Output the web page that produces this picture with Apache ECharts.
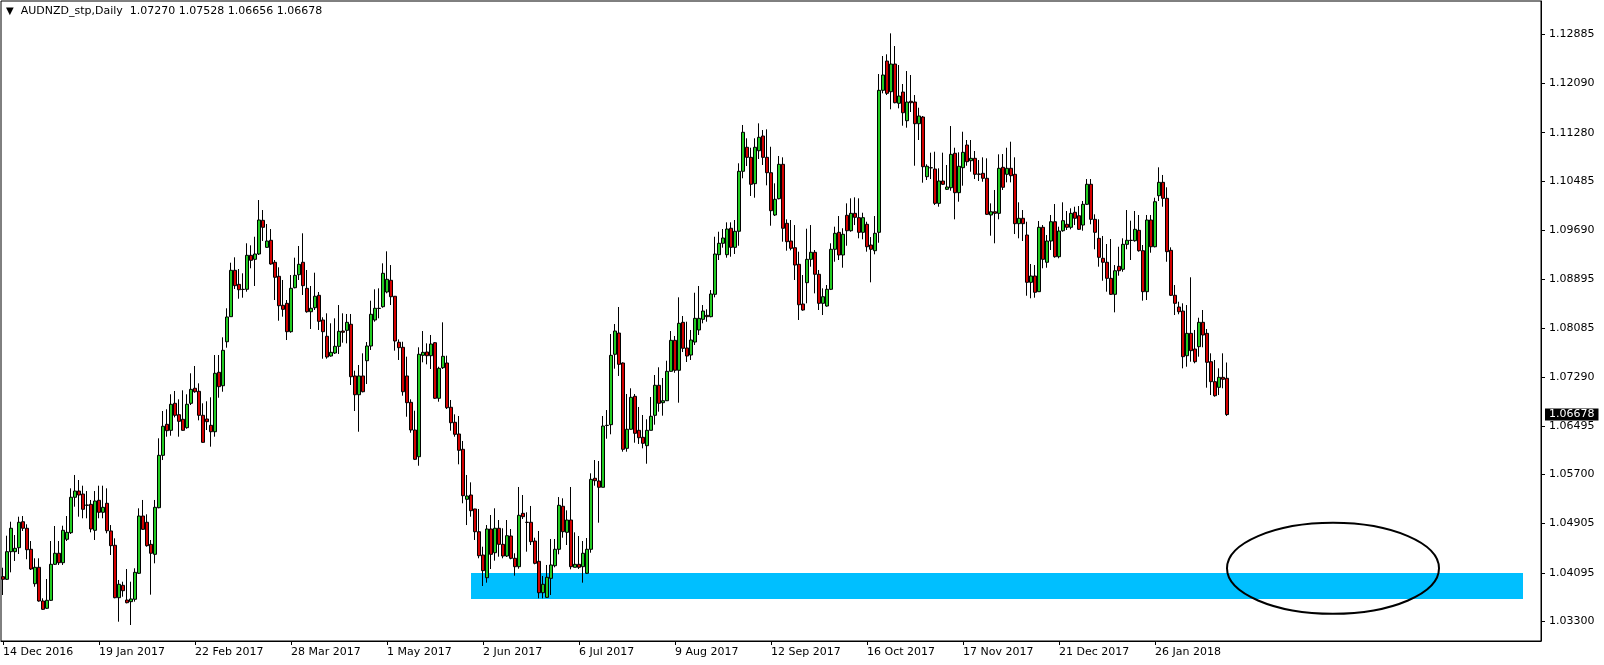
<!DOCTYPE html>
<html><head><meta charset="utf-8">
<script src="https://cdn.jsdelivr.net/npm/echarts@6.0.0/dist/echarts.min.js"></script>
<style>html,body{margin:0;padding:0;background:#fff}#c{width:1604px;height:665px}</style>
</head><body><div id="c"></div>
<script>
const titleText = 'AUDNZD_stp,Daily  1.07270 1.07528 1.06656 1.06678';
const opens = [1.04032,1.03989,1.04440,1.04440,1.04505,1.04929,1.04822,1.04479,1.03917,1.04185,1.03635,1.03516,1.03646,1.04234,1.04414,1.04260,1.04642,1.04750,1.05328,1.05430,1.05381,1.05202,1.05213,1.04789,1.05279,1.05083,1.05230,1.04778,1.04544,1.03689,1.03891,1.03651,1.03624,1.03663,1.04087,1.05022,1.04920,1.04560,1.04397,1.05158,1.06013,1.06519,1.06421,1.06862,1.06676,1.06601,1.06464,1.06862,1.07107,1.07058,1.06666,1.06606,1.06503,1.06398,1.07368,1.07149,1.07867,1.08276,1.09033,1.08804,1.08723,1.08723,1.09278,1.09212,1.09299,1.09849,1.09408,1.09523,1.09164,1.08935,1.08462,1.08494,1.08031,1.08749,1.08961,1.09164,1.08739,1.08357,1.08422,1.08625,1.08222,1.07956,1.07634,1.07683,1.07792,1.08042,1.08053,1.08152,1.07308,1.07002,1.07308,1.07557,1.07797,1.08222,1.08413,1.08439,1.08679,1.08870,1.08609,1.07858,1.07776,1.07308,1.06878,1.06426,1.05990,1.07645,1.07699,1.07639,1.07851,1.06944,1.07443,1.07520,1.06797,1.06552,1.06361,1.06111,1.05295,1.05365,1.05137,1.04766,1.04386,1.04015,1.04810,1.04423,1.04822,1.04560,1.04369,1.04696,1.04332,1.04195,1.05066,1.04920,1.04920,1.04614,1.04283,1.03770,1.03695,1.04005,1.04211,1.04479,1.05181,1.04756,1.04957,1.04185,1.04234,1.04195,1.04087,1.04479,1.05638,1.05594,1.05491,1.06503,1.06513,1.07662,1.08009,1.07520,1.06127,1.06438,1.06976,1.06421,1.06307,1.06170,1.06421,1.06666,1.07156,1.06872,1.06904,1.07384,1.07890,1.07401,1.08184,1.07765,1.07650,1.07862,1.08059,1.08233,1.08298,1.08276,1.08641,1.09288,1.09474,1.09288,1.09719,1.09408,1.09670,1.10649,1.11041,1.10877,1.10447,1.10985,1.11225,1.10877,1.10626,1.09936,1.10202,1.10763,1.09800,1.09511,1.09402,1.09131,1.08483,1.08831,1.09212,1.09327,1.08968,1.08494,1.08450,1.08723,1.09376,1.09653,1.09283,1.09931,1.09679,1.09963,1.09892,1.09653,1.09784,1.09446,1.09353,1.09653,1.11971,1.12449,1.11948,1.12400,1.11759,1.11943,1.11475,1.11792,1.11780,1.11426,1.11535,1.10561,1.10708,1.10686,1.10126,1.10491,1.10355,1.10381,1.10943,1.10300,1.10708,1.11078,1.10822,1.10861,1.10605,1.10616,1.10535,1.09936,1.09989,1.09963,1.10714,1.10600,1.10698,1.10600,1.09794,1.09882,1.09609,1.08837,1.08940,1.08684,1.09735,1.09164,1.09511,1.09826,1.09255,1.09679,1.09784,1.09735,1.09980,1.09924,1.09772,1.10110,1.10437,1.09865,1.09555,1.09229,1.09164,1.08902,1.08641,1.09098,1.09049,1.09457,1.09523,1.09516,1.09686,1.09353,1.08684,1.09854,1.09418,1.10251,1.10469,1.10208,1.09359,1.08625,1.08434,1.08368,1.07639,1.08004,1.07748,1.07786,1.08184,1.08004,1.07541,1.07215,1.07123,1.07286,1.07270];
const highs = [1.04178,1.04701,1.04929,1.04712,1.05011,1.05022,1.04887,1.04614,1.04332,1.04332,1.03679,1.03994,1.04614,1.04859,1.04614,1.04864,1.05022,1.05474,1.05692,1.05610,1.05517,1.05430,1.05284,1.05430,1.05517,1.05517,1.05474,1.04875,1.04658,1.03978,1.03950,1.04157,1.03950,1.04169,1.05148,1.05284,1.05050,1.04631,1.05284,1.06291,1.06736,1.06764,1.07009,1.07063,1.06927,1.07074,1.07009,1.07352,1.07471,1.07188,1.06862,1.06895,1.06960,1.07650,1.07650,1.07939,1.08413,1.09157,1.09245,1.09054,1.08984,1.09474,1.09441,1.09581,1.10180,1.10017,1.09789,1.09707,1.09201,1.09082,1.08875,1.08548,1.08956,1.09239,1.09430,1.09637,1.09038,1.08777,1.08994,1.08679,1.08266,1.08331,1.08168,1.08249,1.08466,1.08331,1.08320,1.08320,1.07394,1.07487,1.07678,1.07862,1.08537,1.08723,1.08739,1.09147,1.09343,1.09119,1.08613,1.07905,1.07867,1.07623,1.06927,1.06741,1.07776,1.08042,1.07841,1.07977,1.07862,1.07459,1.08184,1.07639,1.06916,1.06682,1.06655,1.06247,1.05692,1.05572,1.05140,1.05137,1.04521,1.04875,1.05039,1.05148,1.04957,1.04822,1.04957,1.04810,1.04414,1.05496,1.05365,1.05083,1.05186,1.04668,1.04778,1.04043,1.04223,1.04647,1.04647,1.05332,1.05311,1.05115,1.05496,1.04756,1.04696,1.04614,1.04663,1.05719,1.05936,1.05920,1.06655,1.06752,1.07993,1.08156,1.08434,1.07530,1.07014,1.07107,1.07014,1.06802,1.06671,1.06601,1.06965,1.07324,1.07450,1.07275,1.07557,1.08042,1.07961,1.08592,1.08287,1.08194,1.08059,1.08667,1.08777,1.08466,1.08396,1.08711,1.09581,1.09663,1.09707,1.09816,1.09816,1.09854,1.10780,1.11405,1.11188,1.11034,1.11188,1.11432,1.11323,1.11334,1.11050,1.10453,1.10899,1.10877,1.09865,1.09854,1.09772,1.09337,1.08956,1.09712,1.09772,1.09364,1.09038,1.08739,1.08793,1.09474,1.09745,1.09919,1.09719,1.10126,1.10208,1.10224,1.10208,1.09973,1.09826,1.09576,1.09919,1.12237,1.12531,1.12559,1.12901,1.12694,1.12384,1.12074,1.12286,1.12221,1.11894,1.11687,1.11552,1.10763,1.10953,1.10969,1.10698,1.10953,1.10752,1.11388,1.11034,1.10959,1.11295,1.11160,1.11160,1.10980,1.10833,1.10877,1.10861,1.10126,1.10344,1.10926,1.10931,1.11034,1.11132,1.10877,1.10143,1.10017,1.09826,1.09136,1.09119,1.09838,1.09772,1.09609,1.09936,1.10115,1.09745,1.10143,1.10001,1.10045,1.10071,1.10082,1.10164,1.10523,1.10523,1.09947,1.09865,1.09593,1.09462,1.09544,1.09119,1.09418,1.09555,1.10017,1.09843,1.10001,1.09936,1.09446,1.09936,1.09936,1.10218,1.10714,1.10589,1.10388,1.09408,1.08793,1.08520,1.08494,1.08466,1.08919,1.08059,1.08259,1.08385,1.08075,1.07678,1.07569,1.07433,1.07678,1.07528];
const lows = [1.03733,1.03978,1.04103,1.04288,1.04402,1.04778,1.04316,1.04141,1.03868,1.03624,1.03488,1.03504,1.03635,1.04223,1.04223,1.04223,1.04614,1.04729,1.05174,1.05011,1.04985,1.04985,1.04756,1.04631,1.04985,1.04985,1.04740,1.04386,1.03679,1.03297,1.03705,1.03597,1.03243,1.03624,1.04076,1.04794,1.04521,1.03738,1.04250,1.05148,1.05936,1.06317,1.06333,1.06633,1.06317,1.06415,1.06447,1.06834,1.07035,1.06584,1.06219,1.06426,1.06154,1.06317,1.06953,1.07051,1.07770,1.08276,1.08728,1.08569,1.08586,1.08684,1.09066,1.08777,1.09283,1.09511,1.09397,1.09124,1.08548,1.08210,1.08276,1.07895,1.08014,1.08739,1.08875,1.08630,1.08341,1.08075,1.08385,1.08059,1.07590,1.07590,1.07623,1.07667,1.07667,1.07851,1.07841,1.07161,1.06736,1.06398,1.07041,1.07177,1.07732,1.08194,1.08249,1.08422,1.08657,1.08466,1.07721,1.07569,1.06986,1.06643,1.06382,1.05936,1.05843,1.07531,1.07498,1.07422,1.06932,1.06888,1.07422,1.06769,1.06415,1.06317,1.05866,1.05230,1.04875,1.05011,1.04631,1.04332,1.03880,1.03934,1.04157,1.04293,1.04358,1.04332,1.04353,1.04316,1.04048,1.04162,1.04973,1.04440,1.04549,1.04234,1.03679,1.03679,1.03684,1.03733,1.04185,1.04397,1.04668,1.04549,1.04152,1.04185,1.04157,1.03934,1.04076,1.04423,1.05517,1.04913,1.05491,1.06284,1.06356,1.07427,1.07308,1.06072,1.06072,1.06432,1.06219,1.06198,1.06127,1.05876,1.06421,1.06513,1.06725,1.06660,1.06900,1.07378,1.07361,1.06872,1.07699,1.07536,1.07569,1.07814,1.07977,1.08168,1.08194,1.08266,1.08592,1.09201,1.09402,1.09239,1.09255,1.09299,1.09434,1.10535,1.10735,1.10246,1.10218,1.10850,1.10752,1.10420,1.09761,1.09919,1.10192,1.09500,1.09353,1.09359,1.08875,1.08222,1.08373,1.08494,1.09092,1.08657,1.08385,1.08303,1.08439,1.08711,1.09173,1.09201,1.09075,1.09434,1.09663,1.09772,1.09555,1.09539,1.09337,1.08837,1.09294,1.09483,1.11922,1.11894,1.11661,1.11759,1.11677,1.11393,1.11361,1.11617,1.10740,1.11160,1.10463,1.10507,1.10523,1.10099,1.10071,1.10425,1.10344,1.10332,1.09865,1.10153,1.10414,1.10740,1.10642,1.10523,1.10491,1.10479,1.09936,1.09598,1.09474,1.09865,1.10344,1.10469,1.10469,1.09625,1.09555,1.09511,1.08618,1.08576,1.08586,1.08684,1.09066,1.09075,1.09364,1.09239,1.09229,1.09663,1.09691,1.09702,1.09772,1.09691,1.09679,1.10099,1.09784,1.09376,1.09092,1.08863,1.08684,1.08630,1.08347,1.08945,1.09010,1.09376,1.09201,1.09500,1.09337,1.08537,1.08548,1.09320,1.09408,1.10164,1.10071,1.09173,1.08613,1.08303,1.08315,1.07433,1.07459,1.07541,1.07515,1.07623,1.07776,1.07117,1.06997,1.06970,1.06997,1.07107,1.06656];
const closes = [1.03989,1.04440,1.04822,1.04495,1.04920,1.04822,1.04472,1.04157,1.04185,1.03635,1.03499,1.03646,1.04234,1.04414,1.04260,1.04789,1.04756,1.05328,1.05430,1.05365,1.05132,1.05197,1.04810,1.05267,1.05083,1.05164,1.04782,1.04538,1.03689,1.03908,1.03803,1.03607,1.03668,1.04103,1.05022,1.04805,1.04538,1.04414,1.05164,1.06013,1.06487,1.06415,1.06846,1.06666,1.06568,1.06421,1.06846,1.07090,1.07051,1.06666,1.06225,1.06562,1.06398,1.07352,1.07133,1.07727,1.08271,1.09033,1.08782,1.08716,1.08720,1.09278,1.09196,1.09299,1.09854,1.09735,1.09511,1.09136,1.08919,1.08455,1.08396,1.08031,1.08739,1.08951,1.09131,1.08782,1.08357,1.08413,1.08609,1.08200,1.08031,1.07618,1.07694,1.07792,1.08037,1.08021,1.08184,1.07296,1.07002,1.07308,1.07051,1.07797,1.08315,1.08413,1.08410,1.08984,1.08886,1.08602,1.07879,1.07770,1.07051,1.06872,1.06426,1.05948,1.07662,1.07694,1.07639,1.07830,1.06944,1.07433,1.07629,1.06790,1.06545,1.06356,1.06095,1.05354,1.05349,1.05109,1.04766,1.04374,1.04130,1.04810,1.04397,1.04822,1.04560,1.04369,1.04701,1.04332,1.04195,1.05034,1.05011,1.04918,1.04603,1.04250,1.03770,1.03908,1.04022,1.04223,1.04479,1.05197,1.04766,1.04957,1.04195,1.04234,1.04185,1.04414,1.04479,1.05621,1.05599,1.05491,1.06491,1.06500,1.07645,1.08042,1.07498,1.06111,1.06438,1.06960,1.06372,1.06300,1.06209,1.06421,1.06650,1.07156,1.06862,1.06904,1.07384,1.07890,1.07401,1.08168,1.07760,1.07634,1.07895,1.08249,1.08249,1.08368,1.08276,1.08646,1.09299,1.09474,1.09560,1.09707,1.09408,1.09670,1.10649,1.11286,1.10877,1.10437,1.11041,1.11204,1.10877,1.10626,1.10006,1.10192,1.10763,1.09719,1.09500,1.09392,1.09119,1.08471,1.08385,1.09212,1.09327,1.08968,1.08494,1.08602,1.08723,1.09376,1.09637,1.09283,1.09621,1.09679,1.09963,1.09898,1.09653,1.09892,1.09418,1.09376,1.09637,1.11971,1.12221,1.11922,1.12400,1.11769,1.11878,1.11605,1.11780,1.11769,1.11426,1.11552,1.10724,1.10731,1.10705,1.10126,1.10491,1.10437,1.10393,1.10926,1.10300,1.10731,1.10959,1.10806,1.10861,1.10600,1.10600,1.10535,1.09947,1.09989,1.09963,1.10698,1.10388,1.10698,1.10577,1.09794,1.09882,1.09794,1.08837,1.08940,1.08674,1.09735,1.09212,1.09511,1.09826,1.09255,1.09674,1.09843,1.09735,1.09963,1.09882,1.09702,1.10110,1.10437,1.09865,1.09653,1.09245,1.09164,1.08902,1.08641,1.09026,1.09026,1.09457,1.09523,1.09520,1.09702,1.09353,1.08684,1.09854,1.09418,1.10153,1.10469,1.10208,1.09337,1.08625,1.08494,1.08357,1.07623,1.08004,1.07721,1.07541,1.08184,1.07977,1.07531,1.07215,1.06986,1.07286,1.07254,1.06678];
const tickLabels = ['14 Dec 2016','19 Jan 2017','22 Feb 2017','28 Mar 2017','1 May 2017','2 Jun 2017','6 Jul 2017','9 Aug 2017','12 Sep 2017','16 Oct 2017','17 Nov 2017','21 Dec 2017','26 Jan 2018'];
const priceTicks = [1.12885,1.12090,1.11280,1.10485,1.09690,1.08895,1.08085,1.07290,1.06495,1.05700,1.04905,1.04095,1.03300];
const priceRange = [1.02982, 1.13429];
const holidays = ['2016-12-26','2017-01-02','2017-12-25','2018-01-01'];
const zoneBars = [117, 380];
const zonePrices = [1.03666, 1.04091];
const ellipseBars = [306, 359];
const ellipsePrices = [1.04911, 1.03426];
const slotCount = 385;

const monthNames = ['Jan','Feb','Mar','Apr','May','Jun','Jul','Aug','Sep','Oct','Nov','Dec'];
const categories = [];
let t = Date.UTC(2016, 11, 14);
while (categories.length < slotCount) {
  const d = new Date(t);
  const wd = d.getUTCDay();
  const iso = d.toISOString().slice(0, 10);
  if (wd !== 0 && wd !== 6 && holidays.indexOf(iso) < 0) {
    categories.push(d.getUTCDate() + ' ' + monthNames[d.getUTCMonth()] + ' ' + d.getUTCFullYear());
  }
  t += 86400000;
}
const candleData = opens.map((o, i) => [o, closes[i], lows[i], highs[i]]);
const lastClose = closes[closes.length - 1];
const FONT = 'DejaVu Sans';
const showTick = (idx, val) => tickLabels.indexOf(val) >= 0;

const chart = echarts.init(document.getElementById('c'), null, {renderer: 'canvas'});
chart.setOption({
  animation: false,
  backgroundColor: '#fff',
  title: {
    text: '{tri|\u25BC}  ' + titleText,
    left: 6, top: 6, padding: 0,
    textStyle: {fontFamily: FONT, fontSize: 11, fontWeight: 'normal', color: '#000',
      rich: {tri: {fontFamily: FONT, fontSize: 10, color: '#000'}}}
  },
  grid: {left: 1, right: 63, top: 1, bottom: 24, show: true, borderColor: '#000', borderWidth: 1, backgroundColor: '#fff'},
  xAxis: {
    type: 'category', data: categories, boundaryGap: true,
    axisLine: {show: true, lineStyle: {color: '#000', width: 1}},
    axisTick: {show: true, interval: showTick, alignWithLabel: true, length: 4, lineStyle: {color: '#000'}},
    axisLabel: {interval: showTick, align: 'left', color: '#000', fontFamily: FONT, fontSize: 11, margin: 6},
    splitLine: {show: false}
  },
  yAxis: {
    type: 'value', position: 'right', min: priceRange[0], max: priceRange[1], scale: true,
    axisLine: {show: true, lineStyle: {color: '#000', width: 1}},
    axisTick: {show: true, customValues: priceTicks, length: 4, lineStyle: {color: '#000'}},
    axisLabel: {customValues: priceTicks, formatter: v => v.toFixed(5), color: '#000', fontFamily: FONT, fontSize: 11, margin: 8},
    splitLine: {show: false}
  },
  series: [
    {
      type: 'candlestick', data: candleData, barWidth: 3,
      itemStyle: {color: '#22CC22', color0: '#D40000', borderColor: '#000', borderColor0: '#000', borderWidth: 1},
      markArea: {
        silent: true,
        itemStyle: {color: '#00BFFF', opacity: 1},
        data: [[{xAxis: categories[zoneBars[0]], yAxis: zonePrices[1]}, {xAxis: categories[zoneBars[1]], yAxis: zonePrices[0]}]]
      },
      markLine: {
        silent: true, symbol: ['none', 'none'], precision: 5,
        lineStyle: {color: 'rgba(0,0,0,0)', width: 1},
        label: {position: 'end', formatter: p => Number(p.value).toFixed(5), backgroundColor: '#000', color: '#fff',
          fontFamily: FONT, fontSize: 11, padding: [1, 4, 0, 4], distance: 4},
        data: [{yAxis: lastClose}]
      }
    },
    {
      type: 'custom', silent: true, clip: false, z: 10,
      encode: {x: [0, 1], y: [2, 3]},
      data: [[ellipseBars[0], ellipseBars[1], ellipsePrices[0], ellipsePrices[1]]],
      renderItem: (params, api) => {
        const p1 = api.coord([api.value(0), api.value(2)]);
        const p2 = api.coord([api.value(1), api.value(3)]);
        return {type: 'ellipse', shape: {cx: (p1[0] + p2[0]) / 2, cy: (p1[1] + p2[1]) / 2,
          rx: Math.abs(p2[0] - p1[0]) / 2, ry: Math.abs(p2[1] - p1[1]) / 2},
          style: {fill: null, stroke: '#000', lineWidth: 2}};
      }
    }
  ]
});
</script></body></html>
